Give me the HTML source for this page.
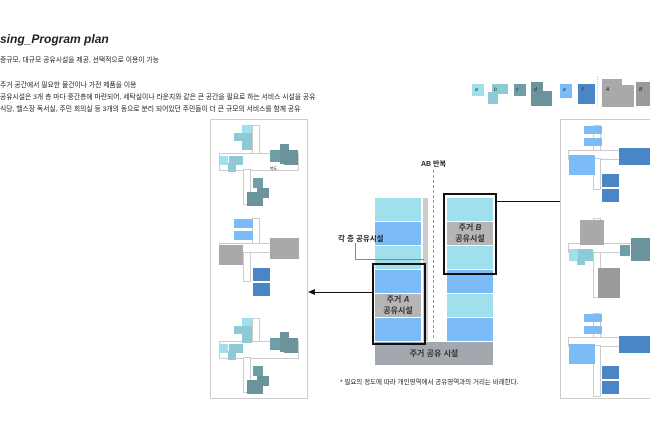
<!DOCTYPE html>
<html><head><meta charset="utf-8"><style>
body{margin:0;width:650px;height:433px;background:#fff;position:relative;overflow:hidden;font-family:"Liberation Sans","Noto Sans CJK KR",sans-serif;color:#222}
div{position:absolute;box-sizing:border-box}
.t{white-space:nowrap}
.c1{background:#9fe0ec}.c2{background:#8ecad6}.c3{background:#6e9ea6}.c4{background:#6a939b}
.b1{background:#7bbcf6}.b2{background:#4a86c5}.g1{background:#a9a9a9}.g2{background:#9a9a9a}
.cor{border:1px solid #ccc;background:#fff}
.fr{border:2px solid #111}
.lbl{font-size:8px;font-weight:bold;text-align:center;color:#333;line-height:13px}
</style></head><body>
<div class="t" style="left:0;top:32px;font-size:12px;font-weight:bold;font-style:italic">sing_Program plan</div>
<div class="t" style="left:0;top:54px;font-size:6.8px">중규모, 대규모 공유시설을 제공, 선택적으로 이용이 가능</div>
<div class="t" style="left:0;top:79px;font-size:6.8px">주거 공간에서 필요한 물건이나 가전 제품을 이용</div>
<div class="t" style="left:0;top:91px;font-size:6.8px">공유시설은 3개 층 마다 중간층에 마련되어, 세탁실이나 라운지와 같은 큰 공간을 필요로 하는 서비스 시설을 공유</div>
<div class="t" style="left:0;top:103px;font-size:6.8px">식당, 헬스장 독서실, 주민 회의실 등 3개의 동으로 분리 되어있던 주민들이 더 큰 규모의 서비스를 함께 공유</div>

<!-- legend -->
<div class="c1" style="left:472px;top:84px;width:12px;height:12px"></div>
<div class="c2" style="left:492px;top:84px;width:16px;height:10px"></div><div class="c2" style="left:488px;top:92px;width:10px;height:12px"></div>
<div class="c3" style="left:514px;top:84px;width:12px;height:12px"></div>
<div class="c4" style="left:531px;top:82px;width:12px;height:24px"></div><div class="c4" style="left:531px;top:91px;width:21px;height:15px"></div>
<div class="b1" style="left:560px;top:84px;width:12px;height:14px"></div>
<div class="b2" style="left:578px;top:84px;width:17px;height:20px"></div>
<div style="left:597px;top:76px;width:1px;height:30px;border-left:1px dotted #ccc"></div>
<div class="g1" style="left:602px;top:79px;width:20px;height:28px"></div><div class="g1" style="left:602px;top:85px;width:32px;height:22px"></div>
<div class="g2" style="left:636px;top:82px;width:14px;height:24px"></div>
<div class="t" style="left:475px;top:87px;font-size:5px;font-style:italic">a</div>
<div class="t" style="left:494px;top:87px;font-size:5px;font-style:italic">b</div>
<div class="t" style="left:516px;top:87px;font-size:5px;font-style:italic">c</div>
<div class="t" style="left:534px;top:87px;font-size:5px;font-style:italic">d</div>
<div class="t" style="left:563px;top:87px;font-size:5px;font-style:italic">e</div>
<div class="t" style="left:582px;top:87px;font-size:5px;font-style:italic">f</div>
<div class="t" style="left:606px;top:87px;font-size:5px;font-style:italic">A</div>
<div class="t" style="left:639px;top:87px;font-size:5px;font-style:italic">B</div>

<!-- left panel -->
<div style="left:210px;top:119px;width:98px;height:280px;border:1px solid #ccc"></div>
<div class="cor" style="left:252px;top:125px;width:8px;height:30px"></div>
<div class="cor" style="left:219px;top:153px;width:80px;height:18px"></div>
<div class="cor" style="left:243px;top:169px;width:8px;height:36px"></div>
<div class="c1" style="left:242px;top:125px;width:10px;height:8px"></div>
<div class="c2" style="left:234px;top:133px;width:18px;height:8px"></div><div class="c2" style="left:242px;top:139px;width:10px;height:11px"></div>
<div class="c1" style="left:219px;top:156px;width:9px;height:9px"></div>
<div class="c2" style="left:229px;top:156px;width:14px;height:9px"></div><div class="c2" style="left:228px;top:163px;width:8px;height:9px"></div>
<div class="c3" style="left:270px;top:150px;width:10px;height:12px"></div>
<div class="c4" style="left:280px;top:144px;width:9px;height:20px"></div><div class="c4" style="left:284px;top:150px;width:14px;height:15px"></div>
<div class="t" style="left:270px;top:166px;font-size:4px">복도</div>
<div class="c3" style="left:253px;top:178px;width:10px;height:10px"></div>
<div class="c4" style="left:257px;top:188px;width:12px;height:10px"></div><div class="c4" style="left:247px;top:192px;width:16px;height:14px"></div>
<div class="cor" style="left:252px;top:218px;width:8px;height:30px"></div>
<div class="cor" style="left:219px;top:243px;width:80px;height:10px"></div>
<div class="cor" style="left:243px;top:252px;width:8px;height:30px"></div>
<div class="b1" style="left:234px;top:219px;width:19px;height:9px"></div><div class="b1" style="left:234px;top:231px;width:19px;height:9px"></div>
<div class="g1" style="left:219px;top:245px;width:24px;height:20px"></div>
<div class="g1" style="left:270px;top:238px;width:29px;height:21px"></div>
<div class="b2" style="left:253px;top:268px;width:17px;height:13px"></div><div class="b2" style="left:253px;top:283px;width:17px;height:13px"></div>
<div class="cor" style="left:252px;top:318px;width:8px;height:30px"></div>
<div class="cor" style="left:219px;top:341px;width:80px;height:18px"></div>
<div class="cor" style="left:243px;top:357px;width:8px;height:36px"></div>
<div class="c1" style="left:242px;top:318px;width:10px;height:8px"></div>
<div class="c2" style="left:234px;top:326px;width:18px;height:8px"></div><div class="c2" style="left:242px;top:332px;width:10px;height:11px"></div>
<div class="c1" style="left:219px;top:344px;width:9px;height:9px"></div>
<div class="c2" style="left:229px;top:344px;width:14px;height:9px"></div><div class="c2" style="left:228px;top:351px;width:8px;height:9px"></div>
<div class="c3" style="left:270px;top:338px;width:10px;height:12px"></div>
<div class="c4" style="left:280px;top:332px;width:9px;height:20px"></div><div class="c4" style="left:284px;top:338px;width:14px;height:15px"></div>
<div class="c3" style="left:253px;top:366px;width:10px;height:10px"></div>
<div class="c4" style="left:257px;top:376px;width:12px;height:10px"></div><div class="c4" style="left:247px;top:380px;width:16px;height:14px"></div>

<!-- right panel -->
<div style="left:560px;top:119px;width:100px;height:280px;border:1px solid #ccc"></div>
<div class="cor" style="left:593px;top:125px;width:8px;height:30px"></div>
<div class="cor" style="left:568px;top:150px;width:90px;height:10px"></div>
<div class="cor" style="left:593px;top:158px;width:8px;height:32px"></div>
<div class="b1" style="left:584px;top:126px;width:18px;height:8px"></div><div class="b1" style="left:584px;top:138px;width:18px;height:8px"></div>
<div class="b1" style="left:569px;top:155px;width:26px;height:20px"></div>
<div class="b2" style="left:619px;top:148px;width:32px;height:17px"></div>
<div class="b2" style="left:602px;top:174px;width:17px;height:13px"></div><div class="b2" style="left:602px;top:189px;width:17px;height:13px"></div>
<div class="cor" style="left:593px;top:218px;width:8px;height:30px"></div>
<div class="cor" style="left:568px;top:243px;width:90px;height:10px"></div>
<div class="cor" style="left:593px;top:252px;width:8px;height:46px"></div>
<div class="g1" style="left:580px;top:220px;width:24px;height:25px"></div>
<div class="c1" style="left:569px;top:249px;width:9px;height:12px"></div><div class="c2" style="left:578px;top:249px;width:15px;height:12px"></div><div class="c2" style="left:577px;top:259px;width:8px;height:6px"></div>
<div class="c3" style="left:620px;top:245px;width:10px;height:11px"></div><div class="c4" style="left:631px;top:238px;width:19px;height:23px"></div>
<div class="g2" style="left:598px;top:268px;width:22px;height:30px"></div>
<div class="cor" style="left:593px;top:313px;width:8px;height:30px"></div>
<div class="cor" style="left:568px;top:337px;width:90px;height:10px"></div>
<div class="cor" style="left:593px;top:345px;width:8px;height:52px"></div>
<div class="b1" style="left:584px;top:314px;width:18px;height:8px"></div><div class="b1" style="left:584px;top:326px;width:18px;height:8px"></div>
<div class="b1" style="left:569px;top:344px;width:26px;height:20px"></div>
<div class="b2" style="left:619px;top:336px;width:32px;height:17px"></div>
<div class="b2" style="left:602px;top:366px;width:17px;height:13px"></div><div class="b2" style="left:602px;top:381px;width:17px;height:13px"></div>

<!-- stacks -->
<div class="c1" style="left:375px;top:198px;width:46px;height:23px"></div>
<div class="b1" style="left:375px;top:222px;width:46px;height:23px"></div>
<div class="c1" style="left:375px;top:246px;width:46px;height:23px"></div>
<div class="b1" style="left:375px;top:270px;width:46px;height:23px"></div>
<div class="lbl" style="left:375px;top:294px;width:46px;height:23px;line-height:11px;background:#b5b5b5">주거 <i>A</i><br>공유시설</div>
<div class="b1" style="left:375px;top:318px;width:46px;height:23px"></div>
<div style="left:423px;top:198px;width:5px;height:143px;background:#ccc"></div>
<div class="c1" style="left:447px;top:198px;width:46px;height:23px"></div>
<div class="lbl" style="left:447px;top:222px;width:46px;height:23px;line-height:11px;background:#b5b5b5">주거 <i>B</i><br>공유시설</div>
<div class="c1" style="left:447px;top:246px;width:46px;height:23px"></div>
<div class="b1" style="left:447px;top:270px;width:46px;height:23px"></div>
<div class="c1" style="left:447px;top:294px;width:46px;height:23px"></div>
<div class="b1" style="left:447px;top:318px;width:46px;height:23px"></div>
<div class="lbl" style="left:375px;top:342px;width:118px;height:23px;line-height:23px;background:#a3a8ae">주거 공유 시설</div>
<div style="left:433px;top:170px;width:1px;height:168px;border-left:1px dashed #999"></div>
<div class="t" style="left:421px;top:159px;font-size:7px;font-weight:bold">AB 반복</div>
<div class="t" style="left:338px;top:233px;font-size:7.5px;font-weight:bold">각 층 공유시설</div>
<div style="left:355px;top:243px;width:69px;height:17px;border-left:1px solid #888;border-bottom:1px solid #888"></div>
<div class="fr" style="left:372px;top:263px;width:54px;height:82px"></div>
<div class="fr" style="left:443px;top:193px;width:54px;height:82px"></div>
<div style="left:497px;top:201px;width:63px;height:1px;background:#111"></div>
<div style="left:314px;top:292px;width:58px;height:1px;background:#111"></div>
<div style="left:308px;top:289px;width:0;height:0;border-top:3.5px solid transparent;border-bottom:3.5px solid transparent;border-right:7px solid #111"></div>
<div class="t" style="left:340px;top:376px;font-size:6.5px">* 필요의 정도에 따라 개인영역에서 공유영역과의 거리는 비례한다.</div>
</body></html>
